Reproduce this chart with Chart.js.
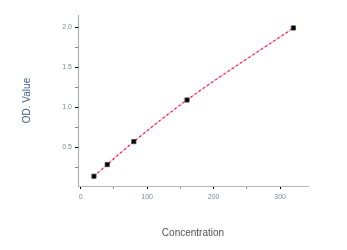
<!DOCTYPE html>
<html>
<head>
<meta charset="utf-8">
<script src="https://cdn.jsdelivr.net/npm/chart.js@4"></script>
<style>
html,body{margin:0;padding:0;background:#fff;}
#wrap{width:347px;height:250px;}
</style>
</head>
<body>
<div id="wrap"><canvas id="c" width="347" height="250"></canvas></div>
<script>
const concentrations = [20, 40, 80, 160, 320];
const odValues = [0.138, 0.284, 0.571, 1.091, 1.991];
const xMajorTicks = [0, 100, 200, 300];
const xMinorTicks = [50, 150, 250];
const yMajorTicks = [0.5, 1.0, 1.5, 2.0];
const yMinorTicks = [0.25, 0.75, 1.25, 1.75];
const xTitle = 'Concentration';
const yTitle = 'OD. Value';

const pts = concentrations.map((x, i) => ({x: x, y: odValues[i]}));
const fontFam = '"Liberation Sans", Arial, sans-serif';

function tickSet(major, minor) {
  return major.concat(minor).sort((a, b) => a - b).map(v => ({value: v}));
}
function isMajor(list, v) {
  return list.some(m => Math.abs(m - v) < 1e-9);
}

new Chart(document.getElementById('c'), {
  type: 'scatter',
  data: {
    datasets: [
      {
        data: pts, showLine: true, borderColor: '#ffb3c9', borderWidth: 1.2,
        cubicInterpolationMode: 'monotone', pointRadius: 0, order: 3
      },
      {
        data: pts, showLine: true, borderColor: '#ee0f50', borderWidth: 1.2,
        borderDash: [2, 3], cubicInterpolationMode: 'monotone', pointRadius: 0, order: 2
      },
      {
        data: pts, showLine: false, pointStyle: 'rect', pointRadius: 3,
        backgroundColor: '#000', borderColor: '#3c4a3c', borderWidth: 0.8, order: 1
      }
    ]
  },
  options: {
    responsive: false,
    animation: false,
    events: [],
    layout: {padding: {left: 17, right: 39, top: 15, bottom: 7}},
    plugins: {legend: {display: false}, tooltip: {enabled: false}},
    scales: {
      x: {
        type: 'linear', min: -4, max: 342,
        afterFit: s => { s.height = 57; },
        afterBuildTicks: s => { s.ticks = tickSet(xMajorTicks, xMinorTicks); },
        border: {display: true, color: '#b5b5b5', width: 1},
        grid: {
          drawOnChartArea: false, drawTicks: true, tickLength: 3,
          tickColor: ctx => isMajor(xMajorTicks, ctx.tick.value) ? '#000' : '#888',
          tickWidth: 1
        },
        ticks: {
          autoSkip: false, maxRotation: 0, padding: 4, color: '#7a8a9a',
          font: {family: fontFam, size: 7},
          callback: v => isMajor(xMajorTicks, v) ? String(v) : ''
        },
        title: {display: true, text: xTitle, color: '#505050', font: {family: fontFam, size: 10}}
      },
      y: {
        type: 'linear', min: 0.016, max: 2.153,
        afterFit: s => { s.width = 61; },
        afterBuildTicks: s => { s.ticks = tickSet(yMajorTicks, yMinorTicks); },
        border: {display: true, color: '#a8a8a8', width: 1},
        grid: {
          drawOnChartArea: false, drawTicks: true, tickLength: 3,
          tickColor: ctx => isMajor(yMajorTicks, ctx.tick.value) ? '#000' : '#888',
          tickWidth: 1
        },
        ticks: {
          autoSkip: false, padding: 3, color: '#7a8a9a',
          font: {family: fontFam, size: 7},
          callback: v => isMajor(yMajorTicks, v) ? v.toFixed(1) : ''
        },
        title: {display: true, text: yTitle, color: '#3b5b8f', font: {family: fontFam, size: 10}}
      }
    }
  }
});
</script>
</body>
</html>
